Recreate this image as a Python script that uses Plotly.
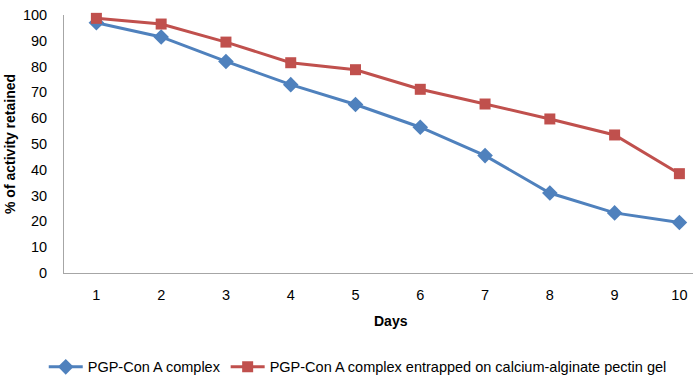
import plotly.graph_objects as go

days = [1, 2, 3, 4, 5, 6, 7, 8, 9, 10]
complex_vals = [97, 91.5, 82, 73, 65.3, 56.5, 45.5, 31, 23.3, 19.6]
entrapped_vals = [98.7, 96.5, 89.5, 81.5, 78.8, 71.2, 65.5, 59.7, 53.5, 38.5]
name_a = "PGP-Con A complex"
name_b = "PGP-Con A complex entrapped on calcium-alginate pectin gel"
yticks = [0, 10, 20, 30, 40, 50, 60, 70, 80, 90, 100]
x_title = "Days"
y_title = "% of activity retained"

font = "Liberation Sans"
fig = go.Figure()
fig.add_trace(go.Scatter(x=days, y=complex_vals, name=name_a, mode="lines+markers",
                         line=dict(color="#4F81BD", width=3),
                         marker=dict(symbol="diamond", size=12, color="#4F81BD"),
                         cliponaxis=False))
fig.add_trace(go.Scatter(x=days, y=entrapped_vals, name=name_b, mode="lines+markers",
                         line=dict(color="#C0504D", width=3),
                         marker=dict(symbol="square", size=11, color="#C0504D"),
                         cliponaxis=False))
fig.update_layout(
    width=696, height=378,
    margin=dict(l=64, r=3, t=15, b=105, autoexpand=False),
    paper_bgcolor="white", plot_bgcolor="white",
    font=dict(family=font, size=14, color="#000"),
    xaxis=dict(range=[0.5, 10.21], tickvals=days, showgrid=False, zeroline=False,
               showline=True, linecolor="#A6A6A6", linewidth=1, ticks="",
               tickfont=dict(size=14.5), automargin=False, ticklabelstandoff=9),
    yaxis=dict(range=[0, 100], tickvals=yticks, showgrid=False, zeroline=False,
               showline=True, linecolor="#A6A6A6", linewidth=1, ticks="",
               tickfont=dict(size=14.5), automargin=False, ticklabelstandoff=13),
    legend=dict(orientation="h", x=0.467, xanchor="center", y=-0.364, yanchor="middle",
                font=dict(size=14.5), traceorder="normal", itemwidth=34),
    showlegend=True,
    annotations=[
        dict(text="<b>" + x_title + "</b>", xref="paper", yref="paper", x=0.520, y=-0.186,
             xanchor="center", yanchor="middle", showarrow=False, font=dict(size=14)),
        dict(text="<b>" + y_title + "</b>", xref="paper", yref="paper", x=-0.0859, y=0.5,
             xanchor="center", yanchor="middle", showarrow=False, textangle=-90,
             font=dict(size=14)),
    ],
)
fig.write_html("out.html", config={"displayModeBar": False},
               post_script="document.body.style.margin='0';document.body.style.overflow='hidden';")
